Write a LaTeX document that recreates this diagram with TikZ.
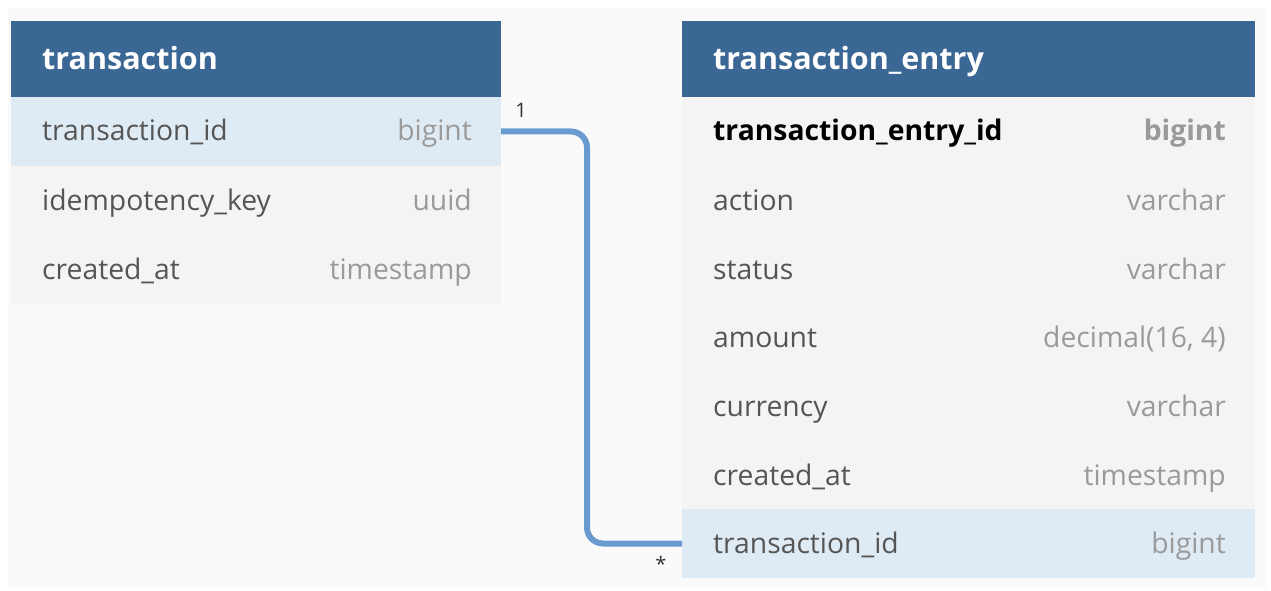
\documentclass[tikz,border=0pt]{standalone}
\usepackage{fontspec}
\setmainfont{Open Sans}
\definecolor{bgc}{HTML}{FAFAFA}
\definecolor{hdrc}{HTML}{3B6795}
\definecolor{keyc}{HTML}{DFEBF4}
\definecolor{rowc}{HTML}{F4F4F4}
\definecolor{namec}{HTML}{555555}
\definecolor{typec}{HTML}{9A9A9A}
\definecolor{linkc}{HTML}{6A9BD0}
\definecolor{labc}{HTML}{333333}
\tikzset{
  tbox/.style={anchor=north west, inner sep=0pt, outer sep=0pt, draw=none},
  hdrbox/.style={tbox, fill=hdrc, minimum height=76pt},
  rowbox/.style={tbox, fill=rowc, minimum height=69pt},
  keybox/.style={tbox, fill=keyc, minimum height=69pt},
  htext/.style={anchor=base west, inner sep=0pt, text=white, font=\fontsize{30.5}{34}\selectfont\bfseries},
  ntext/.style={anchor=base west, inner sep=0pt, text=namec, font=\fontsize{28.3}{32}\selectfont},
  ttext/.style={anchor=base east, inner sep=0pt, text=typec, font=\fontsize{28.3}{32}\selectfont},
  pktext/.style={anchor=base west, inner sep=0pt, text=black, font=\fontsize{28.3}{32}\selectfont\bfseries},
  pktype/.style={anchor=base east, inner sep=0pt, text=typec, font=\fontsize{28.3}{32}\selectfont\bfseries},
  card/.style={inner sep=0pt, text=labc, font=\fontsize{20}{22}\selectfont},
  link/.style={draw=linkc, line width=6pt, rounded corners=16pt}
}
\begin{document}
\begin{tikzpicture}[x=1pt,y=-1pt]
\fill[white] (0,0) rectangle (1271,591);
\useasboundingbox (0,0) rectangle (1271,591);
\fill[bgc] (8,8) rectangle (1266,588);

% left table
\node[hdrbox, minimum width=490pt] (tH) at (11,21) {};
\node[htext] (tHt) at (42,70) {transaction};
\node[keybox, minimum width=490pt] (t1) at (11,97) {};
\node[rowbox, minimum width=490pt] (t2) at (11,166) {};
\node[rowbox, minimum width=490pt] (t3) at (11,235) {};
\node[ntext] (t1n) at (42,141) {transaction\_id};
\node[ttext] (t1t) at (472,141) {bigint};
\node[ntext] (t2n) at (42,210) {idempotency\_key};
\node[ttext] (t2t) at (472,210) {uuid};
\node[ntext] (t3n) at (42,279) {created\_at};
\node[ttext] (t3t) at (472,279) {timestamp};

% right table
\node[hdrbox, minimum width=573pt] (eH) at (682,21) {};
\node[htext] (eHt) at (713,70) {transaction\_entry};
\node[rowbox, minimum width=573pt] (e1) at (682,97) {};
\node[rowbox, minimum width=573pt] (e2) at (682,166) {};
\node[rowbox, minimum width=573pt] (e3) at (682,234) {};
\node[rowbox, minimum width=573pt] (e4) at (682,303) {};
\node[rowbox, minimum width=573pt] (e5) at (682,372) {};
\node[rowbox, minimum width=573pt] (e6) at (682,440) {};
\node[keybox, minimum width=573pt] (e7) at (682,509) {};
\node[pktext] (e1n) at (713,141) {transaction\_entry\_id};
\node[pktype] (e1t) at (1226,141) {bigint};
\node[ntext] (e2n) at (713,210) {action};
\node[ttext] (e2t) at (1226,210) {varchar};
\node[ntext] (e3n) at (713,279) {status};
\node[ttext] (e3t) at (1226,279) {varchar};
\node[ntext] (e4n) at (713,347) {amount};
\node[ttext] (e4t) at (1226,347) {decimal(16, 4)};
\node[ntext] (e5n) at (713,416) {currency};
\node[ttext] (e5t) at (1226,416) {varchar};
\node[ntext] (e6n) at (713,485) {created\_at};
\node[ttext] (e6t) at (1226,485) {timestamp};
\node[ntext] (e7n) at (713,553) {transaction\_id};
\node[ttext] (e7t) at (1226,553) {bigint};

% connector
\coordinate (bend) at (587,0);
\draw[link] (t1.east) -- (bend |- t1.east) -- (bend |- e7.west) -- (e7.west);
\node[card] (c1) at (521,110) {1};
\node[card] (c2) at (661,564) {*};
\end{tikzpicture}
\end{document}
